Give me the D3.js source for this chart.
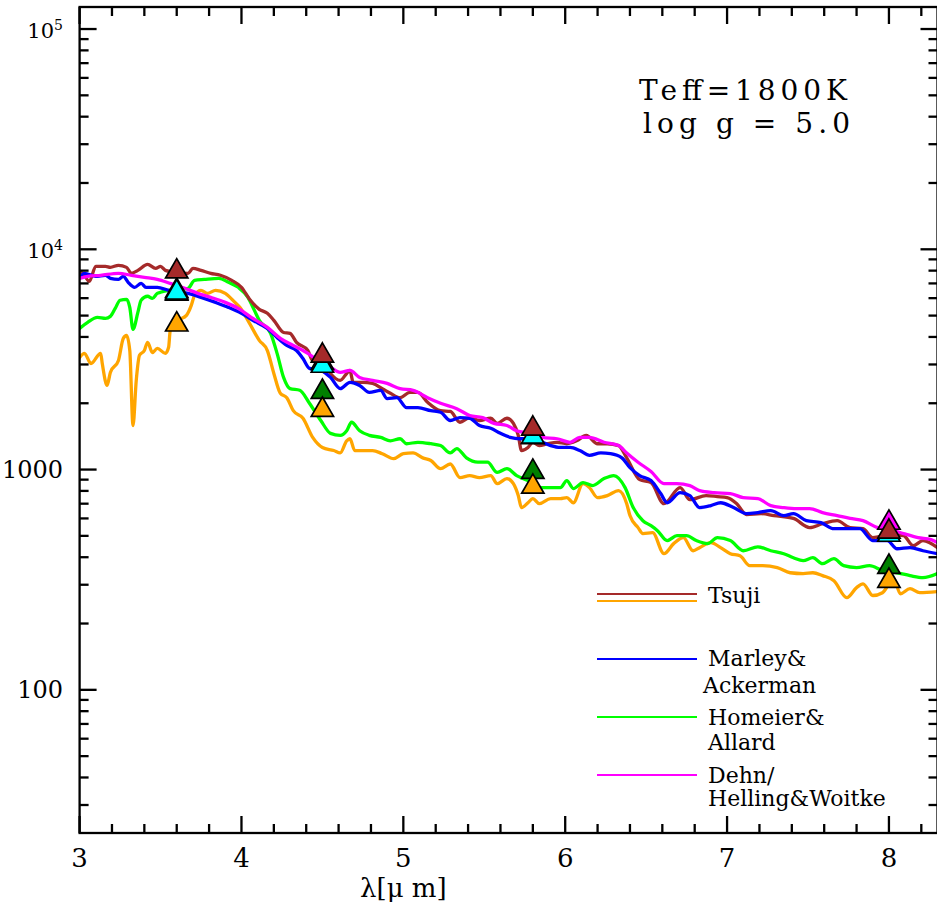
<!DOCTYPE html>
<html>
<head>
<meta charset="utf-8">
<script src="https://cdn.jsdelivr.net/npm/d3@7"></script>
<style>
  html, body { margin: 0; padding: 0; background: #fff; }
  svg { display: block; }
  text { font-family: "DejaVu Serif", "Liberation Serif", serif; fill: #000; }
</style>
</head>
<body>
<svg id="chart" width="937" height="907"></svg>
<script>
// Model spectra, Teff = 1800 K, log g = 5.0 — [wavelength (µm), flux]
const tsujiA = [
  [3.00,7860],[3.02,7780],[3.06,7150],[3.10,8370],[3.16,8370],[3.19,8280],[3.24,8460],[3.29,8280],
  [3.32,7780],[3.36,8020],[3.42,8550],[3.47,8190],[3.50,8370],[3.53,8020],[3.59,7860],[3.67,7780],
  [3.70,8190],[3.75,8020],[3.81,7780],[3.87,7620],[3.94,7230],[4.00,6720],[4.05,5930],[4.11,5340],
  [4.16,5120],[4.20,4760],[4.26,4190],[4.30,4150],[4.34,3780],[4.41,3470],[4.44,3130],[4.50,3130],
  [4.55,2730],[4.61,2540],[4.65,2730],[4.67,2820],[4.69,2490],[4.75,2490],[4.81,2460],[4.87,2330],
  [4.92,2220],[4.98,2120],[5.04,2240],[5.09,2240],[5.15,2020],[5.23,1850],[5.29,1835],[5.35,1640],
  [5.41,1720],[5.47,1670],[5.54,1710],[5.58,1620],[5.64,1710],[5.68,1620],[5.71,1430],[5.73,1220],
  [5.77,1260],[5.80,1330],[5.84,1285],[5.89,1310],[5.95,1330],[6.01,1310],[6.07,1350],[6.13,1430],
  [6.20,1310],[6.26,1310],[6.33,1285],[6.38,1130],[6.46,900],[6.53,872],[6.61,700],[6.71,828],
  [6.77,730],[6.87,762],[6.94,754],[7.00,746],[7.06,700],[7.12,625],[7.21,631],[7.29,618],
  [7.41,600],[7.51,545],[7.59,568],[7.68,586],[7.76,545],[7.84,539],[7.90,491],[8.01,506],
  [8.09,501],[8.15,451],[8.21,476],[8.30,442]
];
const tsujiB = [
  [3.00,3230],[3.03,3370],[3.07,3030],[3.13,3370],[3.14,3030],[3.17,2410],[3.19,2760],[3.24,3130],
  [3.27,3940],[3.29,4060],[3.31,3470],[3.33,1585],[3.35,2540],[3.37,3300],[3.40,3470],[3.42,3780],
  [3.45,3400],[3.48,3550],[3.53,3370],[3.55,3590],[3.56,4280],[3.61,4760],[3.66,5010],[3.69,5560],
  [3.71,6180],[3.75,6510],[3.79,6310],[3.84,6510],[3.90,6310],[3.96,5740],[3.99,5450],[4.05,4610],
  [4.11,3860],[4.16,3470],[4.20,2730],[4.24,2220],[4.28,2120],[4.32,1850],[4.38,1710],[4.44,1400],
  [4.50,1260],[4.57,1220],[4.61,1190],[4.65,1350],[4.67,1380],[4.70,1220],[4.75,1220],[4.81,1220],
  [4.87,1180],[4.94,1120],[5.00,1180],[5.06,1190],[5.12,1130],[5.17,1100],[5.23,1010],[5.29,1060],
  [5.35,919],[5.41,939],[5.47,919],[5.54,939],[5.58,863],[5.64,910],[5.68,863],[5.71,762],
  [5.73,672],[5.77,707],[5.80,738],[5.84,700],[5.91,738],[5.97,738],[6.01,746],[6.05,707],
  [6.11,863],[6.15,828],[6.20,746],[6.26,762],[6.33,803],[6.38,700],[6.40,618],[6.45,545],
  [6.48,512],[6.54,517],[6.61,415],[6.67,461],[6.73,491],[6.79,428],[6.83,442],[6.90,466],
  [6.96,442],[7.02,415],[7.08,406],[7.14,366],[7.22,366],[7.31,359],[7.39,340],[7.47,337],
  [7.53,340],[7.59,330],[7.66,313],[7.74,262],[7.80,291],[7.84,303],[7.90,268],[7.96,276],
  [8.03,320],[8.07,273],[8.13,288],[8.19,276],[8.30,279]
];
const marley = [
  [3.00,7460],[3.03,7780],[3.10,7540],[3.16,7620],[3.19,7380],[3.24,7300],[3.27,7540],[3.30,7080],
  [3.34,6720],[3.38,7000],[3.41,6720],[3.48,6720],[3.55,6510],[3.61,6380],[3.67,6310],[3.75,6050],
  [3.84,5740],[3.92,5450],[4.00,5120],[4.07,4760],[4.16,4370],[4.22,3980],[4.28,3660],[4.34,3470],
  [4.38,3190],[4.42,2880],[4.49,2820],[4.55,2620],[4.61,2330],[4.67,2490],[4.73,2410],[4.79,2240],
  [4.86,2290],[4.90,2100],[4.96,2120],[5.02,1910],[5.09,1910],[5.17,1850],[5.23,1820],[5.29,1670],
  [5.35,1720],[5.41,1710],[5.47,1585],[5.54,1540],[5.60,1460],[5.66,1400],[5.72,1380],[5.78,1380],
  [5.84,1350],[5.91,1285],[5.97,1260],[6.03,1260],[6.09,1220],[6.15,1160],[6.22,1190],[6.28,1180],
  [6.35,1130],[6.40,1020],[6.46,939],[6.53,891],[6.59,778],[6.63,707],[6.71,786],[6.77,762],
  [6.83,672],[6.90,686],[6.96,707],[7.04,672],[7.12,631],[7.19,638],[7.27,651],[7.35,618],
  [7.41,631],[7.49,586],[7.58,574],[7.66,539],[7.74,539],[7.82,539],[7.90,476],[7.99,476],
  [8.05,437],[8.13,442],[8.21,428],[8.30,415]
];
const homeier = [
  [3.00,4370],[3.05,4660],[3.11,4910],[3.16,4860],[3.19,4960],[3.22,5390],[3.25,5870],[3.29,5930],
  [3.31,5450],[3.33,4330],[3.36,5170],[3.38,5870],[3.42,6120],[3.45,5990],[3.48,6310],[3.50,6380],
  [3.55,6510],[3.61,6580],[3.67,6650],[3.71,7230],[3.77,7300],[3.86,7380],[3.92,7080],[3.98,6720],
  [4.04,6050],[4.08,5280],[4.11,4760],[4.18,4150],[4.22,3370],[4.26,2620],[4.30,2330],[4.36,2290],
  [4.42,2000],[4.49,1670],[4.55,1460],[4.61,1430],[4.65,1500],[4.68,1640],[4.73,1500],[4.79,1430],
  [4.86,1400],[4.92,1350],[4.98,1380],[5.02,1310],[5.09,1330],[5.17,1310],[5.23,1285],[5.29,1190],
  [5.33,1245],[5.39,1130],[5.46,1080],[5.52,1080],[5.58,970],[5.64,1010],[5.70,939],[5.77,891],
  [5.84,828],[5.91,828],[5.97,828],[6.01,891],[6.05,820],[6.11,872],[6.17,846],[6.24,910],
  [6.30,939],[6.37,828],[6.42,672],[6.48,586],[6.53,556],[6.57,528],[6.63,476],[6.69,501],
  [6.75,501],[6.81,476],[6.88,461],[6.94,491],[7.02,476],[7.10,428],[7.19,446],[7.27,428],
  [7.35,415],[7.41,398],[7.47,386],[7.53,398],[7.59,374],[7.66,394],[7.72,366],[7.80,359],
  [7.88,366],[7.96,348],[8.05,340],[8.13,330],[8.21,323],[8.30,337]
];
const dehn = [
  [3.00,7380],[3.05,7540],[3.13,7620],[3.24,7780],[3.32,7620],[3.40,7460],[3.48,7300],[3.56,7000],
  [3.65,6650],[3.73,6310],[3.81,6050],[3.90,5740],[3.98,5390],[4.06,4910],[4.16,4420],[4.24,3940],
  [4.32,3660],[4.41,3370],[4.49,3060],[4.55,2910],[4.61,2760],[4.67,2820],[4.73,2620],[4.81,2540],
  [4.90,2460],[4.98,2330],[5.06,2290],[5.15,2120],[5.23,2000],[5.33,1890],[5.41,1760],[5.49,1720],
  [5.56,1620],[5.64,1585],[5.70,1500],[5.78,1460],[5.86,1400],[5.95,1380],[6.03,1330],[6.09,1400],
  [6.15,1400],[6.24,1330],[6.33,1285],[6.38,1190],[6.45,1080],[6.53,980],[6.61,863],[6.69,863],
  [6.77,846],[6.83,803],[6.92,786],[7.02,778],[7.10,746],[7.19,738],[7.27,686],[7.35,672],
  [7.43,665],[7.51,665],[7.59,638],[7.68,618],[7.76,600],[7.84,586],[7.93,545],[8.01,534],
  [8.09,512],[8.18,491],[8.26,481],[8.30,466]
];

// Band-integrated fluxes at the IRAC wavelengths
const bandWaves   = [3.6, 4.5, 5.8, 8.0];
const homeierBand = [6500, 2330, 1010, 374];
const tsujiBBand  = [4710, 1930, 864, 323];
const dehnBand    = [6700, 3150, 1450, 593];
const marleyBand  = [6580, 3060, 1460, 523];
const tsujiABand  = [8200, 3400, 1585, 540];

const xTicks = [3, 4, 5, 6, 7, 8];
const yMajor = [
  { v: 1e5, base: "10", exp: "5" },
  { v: 1e4, base: "10", exp: "4" },
  { v: 1000, base: "1000", exp: "" },
  { v: 100, base: "100", exp: "" }
];
const legendItems = [
  { lines: ["Tsuji"], colors: ["#a52a2a", "#ffa500"] },
  { lines: ["Marley&", "Ackerman"], colors: ["#0000ff"] },
  { lines: ["Homeier&", "Allard"], colors: ["#00ff00"] },
  { lines: ["Dehn/", "Helling&Woitke"], colors: ["#ff00ff"] }
];

const svg = d3.select("#chart");
const plotL = 79.6, plotR = 937.5, plotT = 7, plotB = 833;

const x = d3.scaleLinear().domain([3, 8.3]).range([plotL, plotR]);
const y = d3.scaleLog().domain([Math.pow(10, 1.35), Math.pow(10, 5.1)]).range([plotB, plotT]);

svg.append("defs").append("clipPath").attr("id", "plotclip")
  .append("rect").attr("x", plotL).attr("y", plotT).attr("width", plotR - plotL).attr("height", plotB - plotT);

// Spectra
const line = d3.line().x(d => x(d[0])).y(d => y(d[1])).curve(d3.curveMonotoneX);
const plot = svg.append("g").attr("clip-path", "url(#plotclip)");
const spectra = [
  { data: tsujiB, color: "#ffa500" },
  { data: homeier, color: "#00ff00" },
  { data: tsujiA, color: "#a52a2a" },
  { data: marley, color: "#0000ff" },
  { data: dehn, color: "#ff00ff" }
];
plot.selectAll("path.spec").data(spectra).join("path")
  .attr("class", "spec")
  .attr("d", d => line(d.data))
  .attr("fill", "none")
  .attr("stroke", d => d.color)
  .attr("stroke-width", 3.3)
  .attr("stroke-linejoin", "round")
  .attr("stroke-linecap", "round");

// Triangle markers centred at mid-height
const midTriangle = {
  draw(ctx, size) {
    const h = Math.sqrt(size) * 0.66, w = Math.sqrt(size) * 0.76;
    ctx.moveTo(0, -h);
    ctx.lineTo(w, h);
    ctx.lineTo(-w, h);
    ctx.closePath();
  }
};
const triPath = d3.symbol().type(midTriangle).size(215)();
const bandSets = [
  { vals: homeierBand, color: "#008000" },
  { vals: tsujiBBand, color: "#ffa500" },
  { vals: dehnBand, color: "#ff00ff" },
  { vals: marleyBand, color: "#00ffff" },
  { vals: tsujiABand, color: "#a52a2a" }
];
bandSets.forEach(s => {
  svg.append("g").selectAll("path").data(bandWaves.map((w, i) => [w, s.vals[i]])).join("path")
    .attr("d", triPath)
    .attr("transform", d => `translate(${x(d[0])},${y(d[1])})`)
    .attr("fill", s.color)
    .attr("stroke", "#000")
    .attr("stroke-width", 1.7)
    .attr("stroke-linejoin", "miter");
});

// Frame and ticks
const axisG = svg.append("g").attr("stroke", "#000").attr("stroke-width", 2.3).attr("fill", "none");
axisG.append("rect").attr("x", plotL).attr("y", plotT).attr("width", plotR - plotL).attr("height", plotB - plotT);

const majorLen = 17, minorLen = 9;
const xMinor = d3.range(3, 8.3001, 0.2).filter(v => Math.abs(v - Math.round(v)) > 1e-6);
const yMinor = [];
[10, 100, 1000, 10000, 100000].forEach(dec => {
  for (let k = 2; k <= 9; k++) {
    const v = dec * k;
    if (v > y.domain()[0] && v < y.domain()[1]) yMinor.push(v);
  }
});

xTicks.forEach(v => {
  axisG.append("line").attr("x1", x(v)).attr("x2", x(v)).attr("y1", plotB).attr("y2", plotB - majorLen);
  axisG.append("line").attr("x1", x(v)).attr("x2", x(v)).attr("y1", plotT).attr("y2", plotT + majorLen);
});
xMinor.forEach(v => {
  axisG.append("line").attr("x1", x(v)).attr("x2", x(v)).attr("y1", plotB).attr("y2", plotB - minorLen);
  axisG.append("line").attr("x1", x(v)).attr("x2", x(v)).attr("y1", plotT).attr("y2", plotT + minorLen);
});
yMajor.forEach(t => {
  axisG.append("line").attr("x1", plotL).attr("x2", plotL + majorLen).attr("y1", y(t.v)).attr("y2", y(t.v));
  axisG.append("line").attr("x1", plotR).attr("x2", plotR - majorLen).attr("y1", y(t.v)).attr("y2", y(t.v));
});
yMinor.forEach(v => {
  axisG.append("line").attr("x1", plotL).attr("x2", plotL + minorLen).attr("y1", y(v)).attr("y2", y(v));
  axisG.append("line").attr("x1", plotR).attr("x2", plotR - minorLen).attr("y1", y(v)).attr("y2", y(v));
});

// Tick labels
svg.append("g").selectAll("text").data(xTicks).join("text")
  .attr("x", d => x(d)).attr("y", 867)
  .attr("text-anchor", "middle")
  .attr("font-family", "'DejaVu Serif Condensed', 'DejaVu Serif', serif")
  .attr("font-size", 26)
  .text(d => d);

const yl = svg.append("g").selectAll("text").data(yMajor).join("text")
  .attr("x", 63).attr("y", d => y(d.v) + 8.5)
  .attr("text-anchor", "end")
  .attr("font-size", d => d.exp ? 21 : 24);
yl.append("tspan").text(d => d.base);
yl.filter(d => d.exp).append("tspan")
  .attr("font-size", 14).attr("dy", -8).text(d => d.exp);

// Axis title
svg.append("text").attr("x", x(5)).attr("y", 897)
  .attr("text-anchor", "middle")
  .attr("font-family", "'DejaVu Serif Condensed', 'DejaVu Serif', serif")
  .attr("font-size", 26)
  .text("λ[μ m]");

// Model parameters
svg.append("text").attr("x", 639).attr("y", 100).attr("font-size", 28)
  .attr("textLength", 208).attr("lengthAdjust", "spacing")
  .text("Teff=1800K");
svg.append("text").attr("x", 643).attr("y", 133).attr("font-size", 28)
  .attr("textLength", 207).attr("lengthAdjust", "spacing")
  .style("white-space", "pre")
  .text("log g = 5.0");

// Legend
const legendRows = [
  { lineY: [594, 601], textY: [603], textX: [708] },
  { lineY: [659], textY: [666, 693], textX: [708, 703] },
  { lineY: [717], textY: [725, 750], textX: [708, 708] },
  { lineY: [775], textY: [783, 806], textX: [708, 708] }
];
const lg = svg.append("g");
legendItems.forEach((item, i) => {
  const row = legendRows[i];
  item.colors.forEach((c, j) => {
    lg.append("line").attr("x1", 597).attr("x2", 697)
      .attr("y1", row.lineY[j]).attr("y2", row.lineY[j])
      .attr("stroke", c).attr("stroke-width", 2.2);
  });
  item.lines.forEach((t, j) => {
    lg.append("text").attr("x", row.textX[j]).attr("y", row.textY[j])
      .attr("font-size", 22).text(t);
  });
});
</script>
</body>
</html>
